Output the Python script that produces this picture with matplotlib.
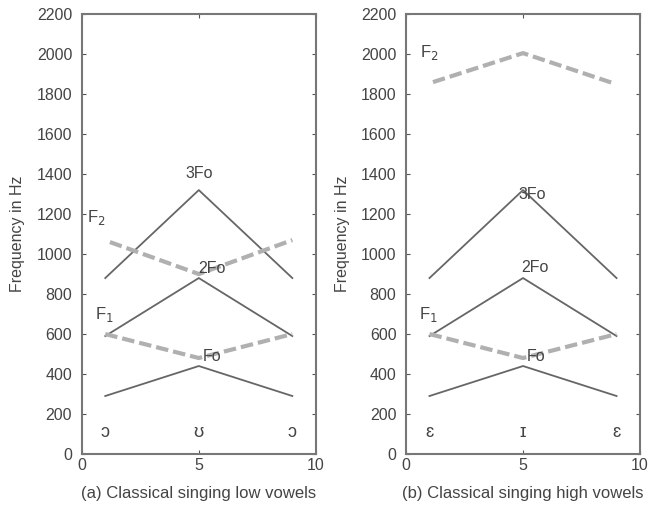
import matplotlib
matplotlib.use("Agg")
import matplotlib.pyplot as plt

plt.rcParams['font.family'] = ['Liberation Sans', 'DejaVu Sans']

x = [1, 5, 9]
# Panel (a): low vowels
a_fo = [290, 440, 290]
a_2fo = [590, 880, 590]
a_3fo = [880, 1320, 880]
a_f1 = [600, 480, 600]
a_f2_x = [1.2, 5, 9]
a_f2 = [1060, 900, 1070]
a_vowels = ["ɔ", "ʊ", "ɔ"]
# Panel (b): high vowels
b_fo = [290, 440, 290]
b_2fo = [590, 880, 590]
b_3fo = [880, 1320, 880]
b_f1 = [600, 480, 600]
b_f2_x = [1.15, 5, 8.85]
b_f2 = [1860, 2005, 1855]
b_vowels = ["ɛ", "ɪ", "ɛ"]

titles = ["(a) Classical singing low vowels", "(b) Classical singing high vowels"]
yticks = list(range(0, 2201, 200))
xticks = [0, 5, 10]

fig = plt.figure(figsize=(6.55, 5.05), dpi=100)
ax1 = fig.add_axes([0.125, 0.101, 0.357, 0.871])
ax2 = fig.add_axes([0.620, 0.101, 0.357, 0.871])

solid_c = '#666666'
dash_c = '#b0b0b0'
tc = '#444444'

def setup(ax, title):
    ax.set_xlim(0, 10)
    ax.set_ylim(0, 2200)
    ax.set_xticks(xticks)
    ax.set_yticks(yticks)
    ax.tick_params(direction='in', top=True, right=True, length=3, labelsize=11.5,
                   colors='#555555', labelcolor='#444444')
    ax.tick_params(axis='y', pad=7)
    ax.tick_params(axis='x', pad=3)
    for s in ax.spines.values():
        s.set_color('#777777')
        s.set_linewidth(1.5)
    ax.set_ylabel("Frequency in Hz", fontsize=11.5, color=tc, labelpad=8)
    ax.set_xlabel(title, fontsize=12, color=tc, labelpad=9)

for ax, fo, f2o, f3o, f1, f2x, f2, vw, title in [
        (ax1, a_fo, a_2fo, a_3fo, a_f1, a_f2_x, a_f2, a_vowels, titles[0]),
        (ax2, b_fo, b_2fo, b_3fo, b_f1, b_f2_x, b_f2, b_vowels, titles[1])]:
    ax.plot(x, fo, color=solid_c, lw=1.3)
    ax.plot(x, f2o, color=solid_c, lw=1.3)
    ax.plot(x, f3o, color=solid_c, lw=1.3)
    ax.plot(x, f1, color=dash_c, lw=3, dashes=(3, 1.2))
    ax.plot(f2x, f2, color=dash_c, lw=3, dashes=(3, 1.2))
    for xi, v in zip(x, vw):
        ax.text(xi, 110, v, ha='center', va='center', fontsize=13, color=tc)
    setup(ax, title)

fs = 11.5
ax1.text(5, 1405, "3Fo", ha='center', va='center', fontsize=fs, color=tc)
ax1.text(5.55, 930, "2Fo", ha='center', va='center', fontsize=fs, color=tc)
ax1.text(5.55, 490, "Fo", ha='center', va='center', fontsize=fs, color=tc)
ax1.text(0.6, 1185, "F$_2$", ha='center', va='center', fontsize=12, color=tc)
ax1.text(0.95, 700, "F$_1$", ha='center', va='center', fontsize=12, color=tc)

ax2.text(5.4, 1300, "3Fo", ha='center', va='center', fontsize=fs, color=tc)
ax2.text(5.5, 935, "2Fo", ha='center', va='center', fontsize=fs, color=tc)
ax2.text(5.55, 490, "Fo", ha='center', va='center', fontsize=fs, color=tc)
ax2.text(1.0, 2010, "F$_2$", ha='center', va='center', fontsize=12, color=tc)
ax2.text(0.95, 700, "F$_1$", ha='center', va='center', fontsize=12, color=tc)

fig.savefig("out.png", dpi=100)
